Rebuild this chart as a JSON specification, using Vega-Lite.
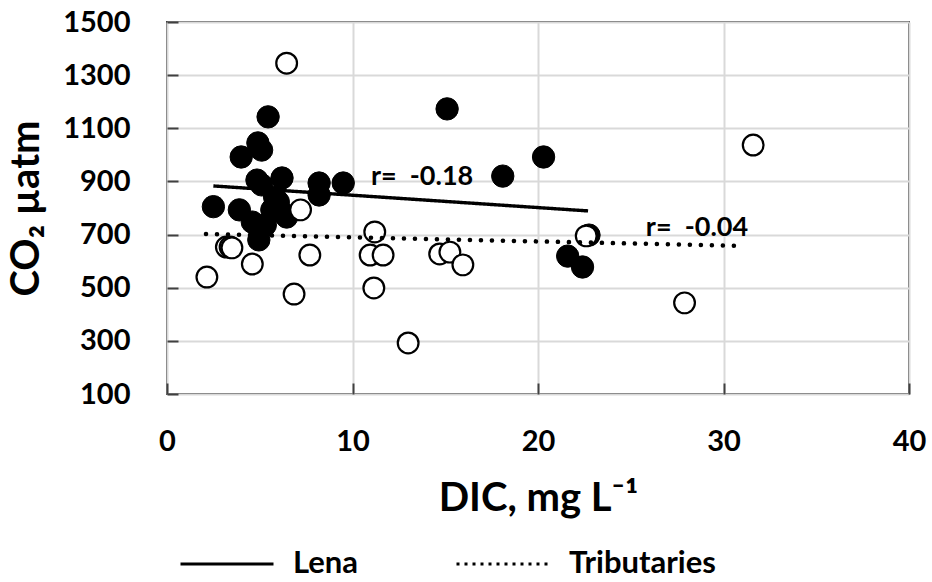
{
  "$schema": "https://vega.github.io/schema/vega-lite/v6.json",
  "width": 742,
  "height": 372,
  "autosize": {"type": "none"},
  "padding": {"left": 167, "top": 22, "right": 23, "bottom": 188},
  "background": "white",
  "config": {
    "font": "Lato",
    "view": {"stroke": "#404040", "strokeWidth": 2},
    "axis": {
      "grid": true,
      "gridColor": "#d9d9d9",
      "gridWidth": 2,
      "domain": false,
      "ticks": true,
      "tickSize": -11,
      "tickColor": "#404040",
      "tickWidth": 2,
      "labelFlush": false,
      "labelFont": "Lato",
      "labelFontSize": 29,
      "labelFontWeight": "bold",
      "labelColor": "#000000",
      "titleFont": "Lato",
      "titleFontSize": 40,
      "titleFontWeight": "bold",
      "titleColor": "#000000"
    }
  },
  "datasets": {
    "pts": [
      {"series": "Lena", "dic": 2.5, "co2": 805},
      {"series": "Lena", "dic": 3.9, "co2": 793},
      {"series": "Lena", "dic": 4.0, "co2": 992},
      {"series": "Lena", "dic": 4.9, "co2": 1045},
      {"series": "Lena", "dic": 5.1, "co2": 1018},
      {"series": "Lena", "dic": 5.45, "co2": 1143},
      {"series": "Lena", "dic": 4.85, "co2": 905},
      {"series": "Lena", "dic": 5.1, "co2": 887},
      {"series": "Lena", "dic": 6.2, "co2": 913},
      {"series": "Lena", "dic": 8.2, "co2": 894},
      {"series": "Lena", "dic": 8.2, "co2": 849},
      {"series": "Lena", "dic": 9.5, "co2": 894},
      {"series": "Lena", "dic": 4.6, "co2": 747},
      {"series": "Lena", "dic": 5.0, "co2": 717},
      {"series": "Lena", "dic": 4.95, "co2": 680},
      {"series": "Lena", "dic": 5.3, "co2": 736},
      {"series": "Lena", "dic": 5.65, "co2": 793},
      {"series": "Lena", "dic": 6.0, "co2": 823},
      {"series": "Lena", "dic": 6.25, "co2": 781},
      {"series": "Lena", "dic": 6.45, "co2": 766},
      {"series": "Lena", "dic": 5.8, "co2": 841},
      {"series": "Lena", "dic": 15.1, "co2": 1173},
      {"series": "Lena", "dic": 18.1, "co2": 920},
      {"series": "Lena", "dic": 20.3, "co2": 992},
      {"series": "Lena", "dic": 21.6, "co2": 619},
      {"series": "Lena", "dic": 22.4, "co2": 578},
      {"series": "Lena", "dic": 22.75, "co2": 698},
      {"series": "Tributaries", "dic": 6.45, "co2": 1345},
      {"series": "Tributaries", "dic": 7.2, "co2": 793},
      {"series": "Tributaries", "dic": 3.2, "co2": 653},
      {"series": "Tributaries", "dic": 3.4, "co2": 653},
      {"series": "Tributaries", "dic": 3.5, "co2": 650},
      {"series": "Tributaries", "dic": 4.6, "co2": 589},
      {"series": "Tributaries", "dic": 2.15, "co2": 540},
      {"series": "Tributaries", "dic": 7.7, "co2": 623},
      {"series": "Tributaries", "dic": 6.85, "co2": 476},
      {"series": "Tributaries", "dic": 11.2, "co2": 710},
      {"series": "Tributaries", "dic": 10.95, "co2": 623},
      {"series": "Tributaries", "dic": 11.65, "co2": 623},
      {"series": "Tributaries", "dic": 11.15, "co2": 499},
      {"series": "Tributaries", "dic": 14.7, "co2": 627},
      {"series": "Tributaries", "dic": 15.25, "co2": 634},
      {"series": "Tributaries", "dic": 15.95, "co2": 586},
      {"series": "Tributaries", "dic": 13.0, "co2": 292},
      {"series": "Tributaries", "dic": 31.6, "co2": 1037},
      {"series": "Tributaries", "dic": 27.9, "co2": 443},
      {"series": "Tributaries", "dic": 22.6, "co2": 695}
    ],
    "fits": [
      {"series": "Lena", "dic": 2.5, "co2": 883},
      {"series": "Lena", "dic": 22.7, "co2": 789},
      {"series": "Tributaries", "dic": 2.1, "co2": 702},
      {"series": "Tributaries", "dic": 31.1, "co2": 657}
    ],
    "notes": [
      {"dic": 13.75, "co2": 917, "label": "r=\u00a0 -0.18"},
      {"dic": 28.57, "co2": 725, "label": "r=\u00a0 -0.04"}
    ]
  },
  "encoding": {
    "x": {
      "field": "dic", "type": "quantitative",
      "scale": {"domain": [0, 40], "nice": false, "zero": false},
      "axis": {"values": [0, 10, 20, 30, 40], "format": "d", "title": "DIC, mg L⁻¹", "labelPadding": 44, "titlePadding": 22}
    },
    "y": {
      "field": "co2", "type": "quantitative",
      "scale": {"domain": [100, 1500], "nice": false, "zero": false},
      "axis": {"values": [100, 300, 500, 700, 900, 1100, 1300, 1500], "format": "d", "title": "CO₂ µatm", "labelPadding": 48, "titlePadding": 16}
    }
  },
  "layer": [
    {
      "data": {"name": "pts"},
      "transform": [{"filter": "datum.series === 'Lena'"}],
      "mark": {"type": "point", "shape": "circle", "filled": true, "size": 500, "fill": "#000000", "stroke": "#000000", "strokeWidth": 1, "opacity": 1}
    },
    {
      "data": {"name": "pts"},
      "transform": [{"filter": "datum.series === 'Tributaries'"}],
      "mark": {"type": "point", "shape": "circle", "filled": false, "size": 430, "fill": "#ffffff", "fillOpacity": 1, "stroke": "#000000", "strokeWidth": 2.2, "opacity": 1}
    },
    {
      "data": {"name": "fits"},
      "transform": [{"filter": "datum.series === 'Lena'"}],
      "mark": {"type": "line", "color": "#000000", "strokeWidth": 3.4, "strokeCap": "butt"},
      "encoding": {
        "strokeDash": {
          "field": "series", "type": "nominal",
          "scale": {"domain": ["Lena", "Tributaries"], "range": [[1, 0], [3, 5]]},
          "legend": {
            "title": null,
            "orient": "none",
            "legendX": 12,
            "legendY": 494,
            "direction": "horizontal",
            "symbolType": "stroke",
            "symbolSize": 8649,
            "symbolStrokeColor": "#000000",
            "symbolStrokeWidth": 3,
            "labelFont": "Lato",
            "labelFontSize": 31,
            "labelFontWeight": "bold",
            "labelColor": "#000000",
            "labelOffset": 18,
            "columnPadding": 91,
            "labelLimit": 400
          }
        }
      }
    },
    {
      "data": {"name": "fits"},
      "transform": [{"filter": "datum.series === 'Tributaries'"}],
      "mark": {"type": "line", "color": "#000000", "strokeWidth": 4.5, "strokeCap": "round", "strokeDash": [0.1, 10.9]},
      "encoding": {}
    },
    {
      "data": {"name": "notes"},
      "mark": {"type": "text", "font": "Lato", "fontSize": 27, "fontWeight": "bold", "color": "#000000", "align": "center", "baseline": "middle"},
      "encoding": {"text": {"field": "label"}}
    }
  ]
}
